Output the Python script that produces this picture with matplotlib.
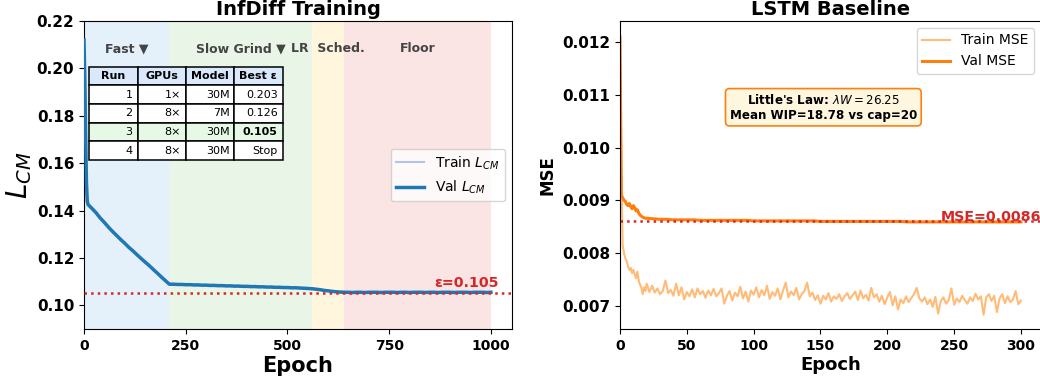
import matplotlib
matplotlib.use("Agg")
import matplotlib.pyplot as plt

###################################
# data
###################################

# InfDiff training curve (epochs 0,2,4,6,8,10 then every 10)
infdiff_epoch = [0, 2, 4, 6, 8] + list(range(10, 1001, 10))
infdiff_val = [
    0.2120, 0.1960, 0.1720, 0.1520, 0.1440, 0.1425,
    # 20 - 210
    0.1408, 0.1390, 0.1368, 0.1350, 0.1330, 0.1312, 0.1295, 0.1278, 0.1262, 0.1245,
    0.1230, 0.1214, 0.1198, 0.1183, 0.1168, 0.1152, 0.1136, 0.1120, 0.1104, 0.1089,
    # 220 - 560
    0.1089, 0.1088, 0.1088, 0.1087, 0.1087, 0.1086, 0.1086, 0.1085, 0.1085, 0.1084,
    0.1084, 0.1083, 0.1083, 0.1082, 0.1082, 0.1081, 0.1081, 0.1080, 0.1080, 0.1079,
    0.1079, 0.1078, 0.1078, 0.1077, 0.1077, 0.1076, 0.1076, 0.1075, 0.1075, 0.1074,
    0.1074, 0.1073, 0.1072, 0.1071, 0.1070,
    # 570 - 640
    0.1068, 0.1066, 0.1063, 0.1061, 0.1059, 0.1057, 0.1056, 0.1055,
    # 650 - 1000
    0.1055, 0.1054, 0.1055, 0.1055, 0.1054, 0.1055, 0.1055, 0.1055, 0.1054, 0.1055,
    0.1055, 0.1055, 0.1054, 0.1055, 0.1055, 0.1054, 0.1055, 0.1055, 0.1055, 0.1054,
    0.1055, 0.1055, 0.1054, 0.1055, 0.1055, 0.1055, 0.1054, 0.1055, 0.1055, 0.1055,
    0.1054, 0.1055, 0.1055, 0.1055, 0.1054, 0.1055,
]
infdiff_train = [
    0.2120, 0.1950, 0.1700, 0.1510, 0.1445, 0.1430,
    0.1412, 0.1386, 0.1372, 0.1346, 0.1334, 0.1308, 0.1299, 0.1274, 0.1266, 0.1241,
    0.1234, 0.1210, 0.1202, 0.1179, 0.1172, 0.1148, 0.1140, 0.1116, 0.1108, 0.1086,
    0.1091, 0.1086, 0.1090, 0.1085, 0.1089, 0.1084, 0.1088, 0.1083, 0.1087, 0.1082,
    0.1086, 0.1081, 0.1085, 0.1080, 0.1084, 0.1079, 0.1083, 0.1078, 0.1082, 0.1077,
    0.1081, 0.1076, 0.1080, 0.1075, 0.1079, 0.1074, 0.1078, 0.1073, 0.1077, 0.1072,
    0.1076, 0.1071, 0.1074, 0.1069, 0.1072,
    0.1066, 0.1068, 0.1061, 0.1063, 0.1057, 0.1059, 0.1054, 0.1056,
    0.1054, 0.1056, 0.1054, 0.1056, 0.1053, 0.1056, 0.1054, 0.1056, 0.1053, 0.1056,
    0.1054, 0.1056, 0.1053, 0.1056, 0.1054, 0.1055, 0.1054, 0.1056, 0.1054, 0.1055,
    0.1054, 0.1056, 0.1053, 0.1056, 0.1054, 0.1056, 0.1053, 0.1055, 0.1054, 0.1056,
    0.1053, 0.1056, 0.1054, 0.1056, 0.1053, 0.1055,
]

# phases of the InfDiff run
phase_start = [0, 210, 560, 640]
phase_end = [210, 560, 640, 1000]
phase_label = ["Fast \u25BC", "Slow Grind \u25BC", "LR  Sched.", "Floor"]
phase_color = ["#e4f0fa", "#e9f5e6", "#fff6dd", "#fbe4e4"]

# run summary table
table_cols = ["Run", "GPUs", "Model", "Best \u03b5"]
table_rows = [
    ["1", "1\u00d7", "30M", "0.203"],
    ["2", "8\u00d7", "7M", "0.126"],
    ["3", "8\u00d7", "30M", "0.105"],
    ["4", "8\u00d7", "30M", "Stop"],
]
best_eps = 0.105

# LSTM baseline
lstm_train_epoch = list(range(0, 21)) + list(range(22, 301, 2))
lstm_train = [
    0.01215, 0.00950, 0.00815, 0.00800, 0.00790, 0.00785, 0.00775, 0.00768, 0.00772, 0.00762,
    0.00768, 0.00760, 0.00752, 0.00765, 0.00748, 0.00740, 0.00735, 0.00722, 0.00735, 0.00728,
    0.00742,
    # 22 - 300 every 2
    0.00726, 0.00738, 0.00725, 0.00733, 0.00722, 0.00728, 0.00748, 0.00724, 0.00730, 0.00719,
    0.00742, 0.00720, 0.00735, 0.00712, 0.00726, 0.00718, 0.00731, 0.00716, 0.00733, 0.00722,
    0.00728, 0.00715, 0.00729, 0.00720, 0.00732, 0.00718, 0.00724, 0.00733, 0.00704, 0.00719,
    0.00728, 0.00710, 0.00725, 0.00718, 0.00736, 0.00714, 0.00727, 0.00708, 0.00729, 0.00721,
    0.00735, 0.00716, 0.00730, 0.00720, 0.00738, 0.00713, 0.00726, 0.00719, 0.00733, 0.00712,
    0.00729, 0.00744, 0.00716, 0.00727, 0.00720, 0.00734, 0.00712, 0.00722, 0.00728, 0.00744,
    0.00718, 0.00725, 0.00711, 0.00720, 0.00704, 0.00719, 0.00712, 0.00724, 0.00708, 0.00718,
    0.00713, 0.00722, 0.00709, 0.00718, 0.00724, 0.00713, 0.00720, 0.00727, 0.00711, 0.00729,
    0.00714, 0.00721, 0.00710, 0.00734, 0.00716, 0.00722, 0.00708, 0.00719, 0.00703, 0.00716,
    0.00726, 0.00701, 0.00718, 0.00693, 0.00712, 0.00705, 0.00718, 0.00707, 0.00715, 0.00722,
    0.00734, 0.00714, 0.00708, 0.00716, 0.00703, 0.00712, 0.00698, 0.00717, 0.00685, 0.00709,
    0.00716, 0.00704, 0.00711, 0.00733, 0.00702, 0.00714, 0.00707, 0.00719, 0.00711, 0.00704,
    0.00716, 0.00709, 0.00723, 0.00712, 0.00718, 0.00683, 0.00716, 0.00722, 0.00709, 0.00719,
    0.00688, 0.00714, 0.00722, 0.00705, 0.00718, 0.00707, 0.00712, 0.00728, 0.00703, 0.00710,
]
lstm_val_epoch = list(range(0, 21)) + list(range(25, 301, 5))
lstm_val = [
    0.01210, 0.00910, 0.00905, 0.00900, 0.00898, 0.00892, 0.00890, 0.00894, 0.00888, 0.00884,
    0.00890, 0.00886, 0.00880, 0.00882, 0.00876, 0.00872, 0.00870, 0.00868, 0.00867, 0.00866,
    0.00866,
    # 25 - 300 every 5
    0.00865, 0.00864, 0.00864, 0.00863, 0.00863, 0.00863, 0.00863, 0.00862, 0.00862, 0.00862,
    0.00862, 0.00862, 0.00862, 0.00862, 0.00862, 0.00861, 0.00861, 0.00861, 0.00861, 0.00861,
    0.00861, 0.00861, 0.00861, 0.00861, 0.00861, 0.00860, 0.00860, 0.00860, 0.00860, 0.00860,
    0.00860, 0.00860, 0.00860, 0.00860, 0.00860, 0.00860, 0.00860, 0.00860, 0.00859, 0.00859,
    0.00859, 0.00859, 0.00859, 0.00859, 0.00859, 0.00859, 0.00859, 0.00859, 0.00859, 0.00859,
    0.00859, 0.00859, 0.00859, 0.00859, 0.00859, 0.00859,
]
best_mse = 0.0086

###################################
# figure
###################################

plt.rcParams['font.family'] = ['DejaVu Sans']
fig = plt.figure(figsize=(10.4, 3.83), dpi=100)
ax1 = fig.add_axes([84 / 1040, 54 / 383, 428 / 1040, 308 / 383])
ax2 = fig.add_axes([620 / 1040, 54 / 383, 421 / 1040, 308 / 383])

red = "#d62728"

# ---- left: InfDiff ----
for s, e, c, lab in zip(phase_start, phase_end, phase_color, phase_label):
    ax1.axvspan(s, e, color=c, lw=0, zorder=0)
    ax1.text((s + e) / 2, 0.91, lab, transform=ax1.get_xaxis_transform(),
             ha="center", va="center", fontsize=9, fontweight="bold", color="#444444")

ax1.plot(infdiff_epoch, infdiff_train, color="#aec7e8", lw=1.5, label="Train $L_{CM}$", zorder=2)
ax1.plot(infdiff_epoch, infdiff_val, color="#1f77b4", lw=2.5, label="Val $L_{CM}$", zorder=3)
ax1.axhline(best_eps, color=red, ls=":", lw=1.8, zorder=4)
ax1.text(1020, best_eps + 0.0027, "\u03b5=%.3f" % best_eps,
         ha="right", va="baseline", fontsize=10.3, fontweight="bold", color=red)

ax1.set_xlim(0, 1052)
ax1.set_ylim(0.09, 0.22)
ax1.set_xticks([0, 250, 500, 750, 1000])
ax1.set_yticks([0.10, 0.12, 0.14, 0.16, 0.18, 0.20, 0.22])
ax1.set_title("InfDiff Training", fontsize=14, fontweight="bold", pad=4.5)
ax1.set_xlabel("Epoch", fontsize=15, fontweight="bold", labelpad=2)
ax1.set_ylabel("$L_{CM}$", fontsize=20, labelpad=2)
ax1.legend(loc="center right", fontsize=10)

tab = ax1.table(cellText=table_rows, colLabels=table_cols,
                bbox=[0.012, 0.549, 0.452, 0.302], zorder=5)
tab.auto_set_font_size(False)
tab.set_fontsize(8)
for (r, c), cell in tab.get_celld().items():
    cell.set_linewidth(1.1)
    if r == 0:
        cell.set_facecolor("#dae8fc")
        cell.get_text().set_fontweight("bold")
        cell.get_text().set_ha("center")
    elif r == 3:
        cell.set_facecolor("#e6f9e6")
        if c == 3:
            cell.get_text().set_fontweight("bold")

# ---- right: LSTM ----
ax2.plot(lstm_train_epoch, lstm_train, color="#ffbb78", lw=1.5, label="Train MSE")
ax2.plot(lstm_val_epoch, lstm_val, color="#ff7f0e", lw=2.2, label="Val MSE")
ax2.axhline(best_mse, color=red, ls=":", lw=1.8)
ax2.text(240, best_mse, "MSE=%.4f" % best_mse,
         ha="left", va="baseline", fontsize=10.3, fontweight="bold", color=red)
ax2.text(0.483, 0.72, "Little's Law: $\\lambda W = 26.25$\nMean WIP=18.78 vs cap=20",
         transform=ax2.transAxes, ha="center", va="center", fontsize=8.6, fontweight="bold",
         bbox=dict(boxstyle="round,pad=0.35", fc="#fff6e0", ec="#ff7f0e", lw=1.2))

ax2.set_xlim(0, 315)
ax2.set_ylim(0.00656, 0.0124)
ax2.set_xticks([0, 50, 100, 150, 200, 250, 300])
ax2.set_yticks([0.007, 0.008, 0.009, 0.010, 0.011, 0.012])
ax2.set_yticklabels(["%.3f" % v for v in [0.007, 0.008, 0.009, 0.010, 0.011, 0.012]])
ax2.set_title("LSTM Baseline", fontsize=14, fontweight="bold", pad=4.5)
ax2.set_xlabel("Epoch", fontsize=13, fontweight="bold", labelpad=2)
ax2.set_ylabel("MSE", fontsize=12, fontweight="bold")
ax2.legend(loc="upper right", fontsize=10)

for ax in (ax1, ax2):
    for lab in ax.get_xticklabels():
        lab.set_fontweight("bold")
        lab.set_fontsize(10)
    for lab in ax.get_yticklabels():
        lab.set_fontweight("bold")
        lab.set_fontsize(11)

fig.savefig("out.png", dpi=100)
